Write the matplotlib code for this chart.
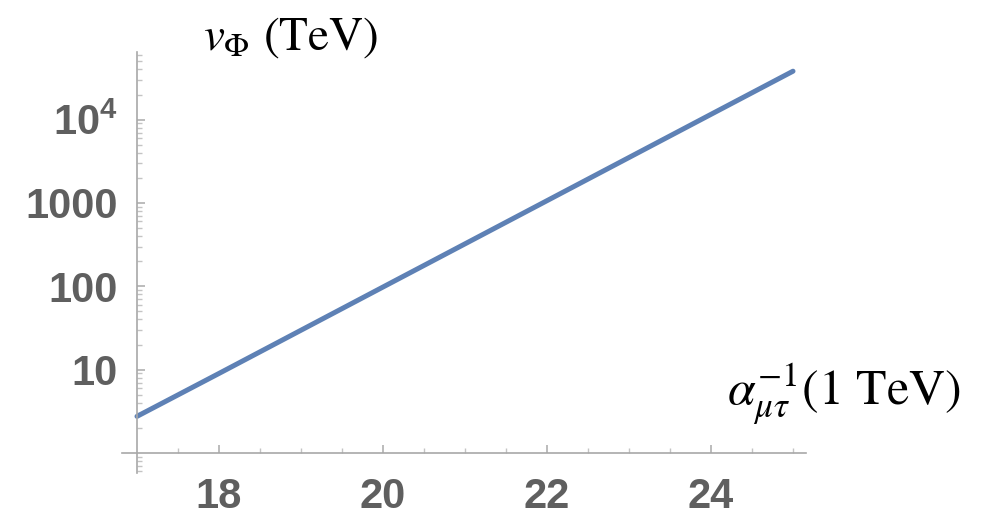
import numpy as np
import matplotlib
matplotlib.use("Agg")
import matplotlib.pyplot as plt
from matplotlib.ticker import FixedLocator, LogLocator, NullFormatter, FuncFormatter

plt.rcParams['mathtext.fontset'] = 'stix'
plt.rcParams['font.family'] = ['Liberation Sans', 'DejaVu Sans']

# data (straight line on log scale)
alpha_inv = [17, 18, 19, 20, 21, 22, 23, 24, 25]
v_phi = [2.75, 9.0, 29.7, 98, 323, 1065, 3510, 11570, 38100]

x_major = [18, 20, 22, 24]
x_minor = [17.5, 18.5, 19, 19.5, 20.5, 21, 21.5, 22.5, 23, 23.5, 24.5, 25]
y_major = [10, 100, 1000, 10000]
y_labels = ['10', '100', '1000', r'$\mathregular{10^{4}}$']

W, H = 997, 517
fig = plt.figure(figsize=(W / 100, H / 100), dpi=100)
ax = fig.add_axes([122 / W, 1 - 473 / H, (806 - 122) / W, (473 - 52) / H])

ax.plot(alpha_inv, v_phi, color='#5E81B5', lw=3.6, solid_capstyle='round')

ax.set_yscale('log')
ax.set_xlim(17 - 15 / 82, 17 + 669 / 82)
ax.set_ylim(10 ** (-20 / 83.2), 10 ** (4 + 67.5 / 83.2))

for s in ['top', 'right']:
    ax.spines[s].set_visible(False)
ax.spines['left'].set_position(('data', 17))
ax.spines['bottom'].set_position(('data', 1))
for s in ['left', 'bottom']:
    ax.spines[s].set_color('#a8a8a8')
    ax.spines[s].set_linewidth(1.2)

ax.xaxis.set_major_locator(FixedLocator(x_major))
ax.xaxis.set_minor_locator(FixedLocator(x_minor))
ax.yaxis.set_major_locator(FixedLocator(y_major))
ax.yaxis.set_minor_locator(LogLocator(base=10, subs=(2, 3, 4, 5, 6, 7, 8, 9)))
ax.yaxis.set_minor_formatter(NullFormatter())
ax.yaxis.set_major_formatter(FuncFormatter(
    lambda v, p: y_labels[y_major.index(int(round(v)))] if int(round(v)) in y_major else ''))

ax.tick_params(which='major', direction='in', length=6, width=1.2, color='#b0b0b0',
               labelcolor='#5f5f5f', labelsize=30)
ax.tick_params(which='minor', direction='in', length=3.5, width=1.0, color='#c4c4c4')
ax.tick_params(axis='x', which='major', pad=17)
ax.tick_params(axis='y', which='major', pad=14)
for lab in ax.get_xticklabels() + ax.get_yticklabels():
    lab.set_fontweight('bold')

fig.text(203 / W, 1 - 50 / H, r'$v_\Phi$ (TeV)', family='STIXGeneral',
         fontsize=34, ha='left', va='baseline')
fig.text(727 / W, 1 - 405 / H, r'$\alpha_{\mu\tau}^{-1}$(1 TeV)', family='STIXGeneral',
         fontsize=36, ha='left', va='baseline')

fig.savefig('out.png', dpi=100)
